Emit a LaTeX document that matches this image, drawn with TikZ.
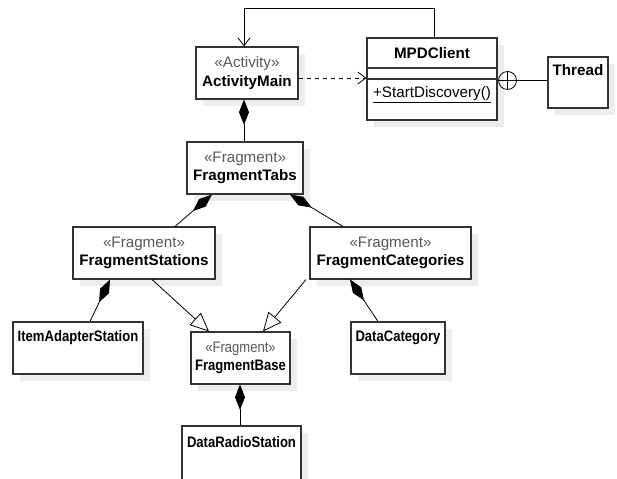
\documentclass[tikz,border=0pt]{standalone}
\usepackage{fontspec}
\setmainfont{Liberation Sans}
\newfontfamily\narrowsans[FakeStretch=0.86]{Liberation Sans}
\usetikzlibrary{arrows.meta,shadows}

\begin{document}
\begin{tikzpicture}[x=0.75pt,y=-0.75pt,
		font=\fontsize{11.4}{14}\selectfont,
		classbox/.style={draw=black!80, line width=0.8pt, fill=white, inner sep=0pt, align=center,
			minimum height=39pt, drop shadow={shadow xshift=5pt, shadow yshift=-5pt, fill=black!7, opacity=1}},
		lowbox/.style={classbox, font=\narrowsans\fontsize{11.4}{14}\selectfont},
		compose/.style={-{Diamond[length=19pt,width=7.5pt]}, line width=0.6pt},
		extends/.style={-{Triangle[open,length=14pt,width=12.5pt,fill=white]}, line width=0.6pt},
		uses/.style={dashed, -{Straight Barb[length=6pt,width=9pt]}, line width=0.6pt},
		assoc/.style={line width=0.6pt}]
			\useasboundingbox (0,0) rectangle (617,478);
			% classes
			\node[classbox, minimum width=76.5pt] (main) at (247,73) {{\color{black!65}«Activity»}\\\textbf{ActivityMain}};
			\node[classbox, minimum width=97.5pt, minimum height=61.5pt] (mpd) at (432,79) {};
			\node[classbox, minimum width=45pt, minimum height=38.25pt] (thread) at (578,82.5) {\textbf{Thread}\\\strut};
			\node[classbox, minimum width=87pt] (tabs) at (245,168) {{\color{black!65}«Fragment»}\\\textbf{FragmentTabs}};
			\node[classbox, minimum width=106.5pt] (stations) at (144,253) {{\color{black!65}«Fragment»}\\\textbf{FragmentStations}};
			\node[classbox, minimum width=120.75pt] (categories) at (390.5,253) {{\color{black!65}«Fragment»}\\\textbf{FragmentCategories}};
			\node[lowbox, minimum width=97.5pt] (adapter) at (78,348) {\textbf{ItemAdapterStation}\\\strut};
			\node[lowbox, minimum width=74.25pt] (base) at (240.5,358) {{\color{black!65}«Fragment»}\\\textbf{FragmentBase}};
			\node[lowbox, minimum width=70.5pt] (category) at (398,348) {\textbf{DataCategory}\\\strut};
			\node[lowbox, minimum width=89.25pt, minimum height=42pt] (radio) at (241.5,454) {\textbf{DataRadioStation}\\\strut};

			% MPDClient compartments
			\node (mpdname) at (432,53) {\textbf{MPDClient}};
			\draw[black!80, line width=0.8pt] (mpd.west |- 0,68) -- (mpd.east |- 0,68);
			\draw[black!80, line width=0.8pt] (mpd.west |- 0,79) -- (mpd.east |- 0,79);
			\node (discovery) at (432,95) {\underline{+StartDiscovery()}};

			% relations
			\draw[assoc, -{Straight Barb[length=6pt,width=9pt]}] ([shift={(2,0)}]mpd.north) -- ++(0,-29) -| ([shift={(-3,0)}]main.north);
			\draw[uses] ([shift={(0,5)}]main.east) -- ([shift={(0,-1)}]mpd.west);
			\coordinate (nest) at ([shift={(10,1.5)}]mpd.east);
			\draw[assoc] (nest) circle[radius=6.75pt];
			\draw[assoc] ([xshift=-6.75pt]nest) -- ([xshift=6.75pt]nest);
			\draw[assoc] ([yshift=-6.75pt]nest) -- ([yshift=6.75pt]nest);
			\draw[assoc] ([xshift=6.75pt]nest) -- (thread.west |- nest);

			\draw[compose] ([shift={(-1,0)}]tabs.north) -- ([shift={(-3,0)}]main.south);
			\draw[compose] ([shift={(31,0)}]stations.north) -- ([shift={(-33,0)}]tabs.south);
			\draw[compose] ([shift={(-47.5,0)}]categories.north) -- ([shift={(45,0)}]tabs.south);
			\draw[compose] ([shift={(12,0)}]adapter.north) -- ([shift={(-34,0)}]stations.south);
			\draw[compose] ([shift={(-20,0)}]category.north) -- ([shift={(-40.5,0)}]categories.south);
			\draw[compose] ([shift={(-1.5,0)}]radio.north) -- ([shift={(-0.5,0)}]base.south);
			\draw[extends] ([shift={(8,0)}]stations.south) -- ([shift={(-31.5,0)}]base.north);
			\draw[extends] ([shift={(-84.5,0)}]categories.south) -- ([shift={(22.5,0)}]base.north);
		\end{tikzpicture}
\end{document}
